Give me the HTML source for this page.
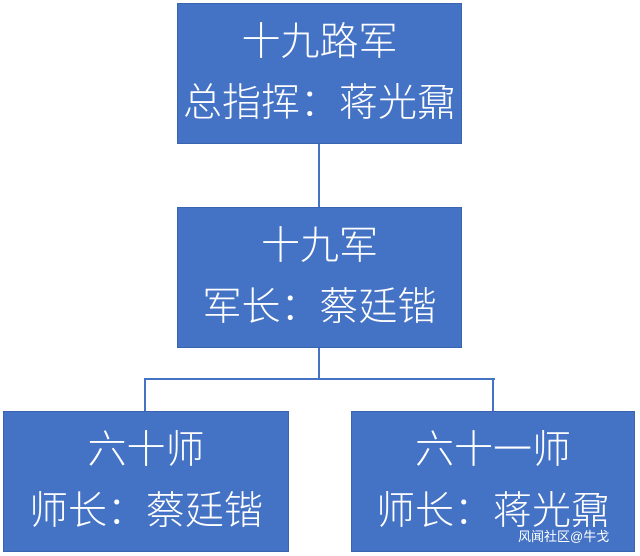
<!DOCTYPE html>
<html><head><meta charset="utf-8"><style>
body{margin:0;width:640px;height:556px;background:#fff;position:relative;overflow:hidden;font-family:"Liberation Sans","Noto Sans CJK SC",sans-serif}
.b{position:absolute;background:#4472c4;border:1px solid #3a64b0;box-sizing:border-box;color:#fff;text-align:center;font-size:39px;line-height:61px;padding-top:8px;font-weight:300}
.l{position:absolute;background:#4472c4}
.w{position:absolute;left:518px;top:526px;font-size:13px;color:#fff;white-space:nowrap}
</style></head><body>
<div class="b" style="left:177px;top:3px;width:285px;height:141px">十九路军<br>总指挥：蒋光鼐</div>
<div class="b" style="left:177px;top:207px;width:285px;height:141px">十九军<br>军长：蔡廷锴</div>
<div class="b" style="left:3px;top:411px;width:286px;height:141px">六十师<br>师长：蔡廷锴</div>
<div class="b" style="left:351px;top:411px;width:284px;height:141px">六十一师<br>师长：蒋光鼐</div>
<div class="l" style="left:318px;top:144px;width:2px;height:63px"></div>
<div class="l" style="left:318px;top:348px;width:2px;height:31px"></div>
<div class="l" style="left:144px;top:378px;width:351px;height:2px"></div>
<div class="l" style="left:144px;top:378px;width:2px;height:33px"></div>
<div class="l" style="left:492px;top:378px;width:2px;height:33px"></div>
<div class="w">风闻社区@牛戈</div>
</body></html>
